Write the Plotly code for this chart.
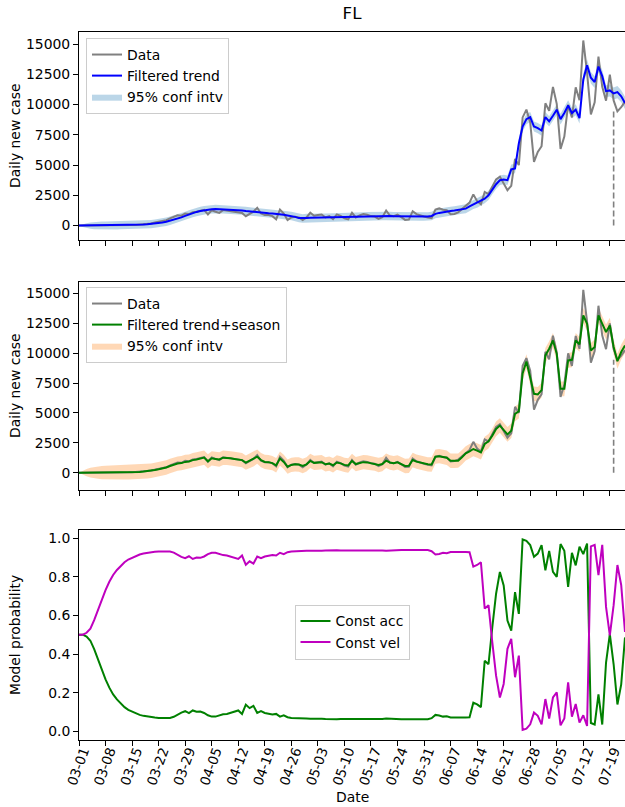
import pandas as pd
import plotly.graph_objects as go
from plotly.subplots import make_subplots

# ---------------- data ----------------
start_date = "2020-03-01"
n_days = 145
dates = pd.date_range(start_date, periods=n_days, freq="D")
date_str = [d.strftime("%Y-%m-%d") for d in dates]

daily_cases = [
    2, 0, 1, 3, 2, 4, 5, 8, 6, 10,
    13, 20, 22, 30, 40, 50, 70, 100, 130, 180,
    250, 300, 380, 450, 600, 730, 850, 820, 1000, 950,
    1100, 1140, 1220, 1300, 920, 1270, 1150, 1050, 1280, 1230,
    1226, 1150, 1100, 1050, 780, 1000, 1150, 1470, 1000, 870,
    870, 780, 520, 1330, 1000, 454, 675, 730, 675, 454,
    675, 1060, 812, 870, 922, 675, 785, 537, 922, 800,
    592, 509, 1060, 675, 850, 950, 900, 785, 750, 555,
    700, 1250, 833, 780, 900, 700, 470, 500, 1190, 950,
    833, 750, 667, 617, 1317, 1419, 1305, 1270, 946, 966,
    1096, 1371, 1698, 1902, 2581, 2016, 1758, 2783, 2610, 3207,
    3822, 4049, 3494, 2926, 3286, 5508, 5004, 8942, 9585, 8530,
    5266, 6093, 6563, 10109, 9488, 11458, 10059, 6336, 7361, 9989,
    8935, 11433, 10360, 15300, 12624, 9194, 10181, 13965, 11466, 10328,
    12478, 10347, 9440, 9785, 10249,
]

filtered_trend = [
    0, 2, 4, 6, 8, 10, 12, 14, 16, 20,
    25, 30, 35, 40, 50, 60, 75, 90, 110, 130,
    160, 200, 250, 320, 400, 490, 580, 680, 800, 920,
    1030, 1130, 1210, 1280, 1330, 1360, 1370, 1360, 1340, 1330,
    1310, 1300, 1285, 1250, 1200, 1160, 1130, 1100, 1070, 1040,
    1020, 1005, 980, 940, 890, 840, 790, 720, 620, 590,
    620, 640, 650, 650, 650, 655, 660, 660, 665, 670,
    675, 680, 700, 720, 740, 760, 780, 790, 790, 780,
    790, 800, 790, 780, 770, 760, 750, 750, 760, 770,
    760, 750, 750, 800, 970, 1050, 1120, 1170, 1200, 1240,
    1300, 1350, 1400, 1580, 1750, 1860, 2030, 2220, 2500, 2970,
    3420, 3750, 3810, 3750, 4640, 4720, 6800, 8190, 8800, 8970,
    8190, 8060, 7860, 8970, 8610, 9080, 9580, 8800, 9300, 9920,
    9300, 9580, 8890, 12080, 13250, 12220, 11860, 13140, 12360, 11110,
    11170, 10920, 11030, 10690, 10140,
]

trend_ci = [
    0, 120, 200, 260, 300, 320, 330, 335, 338, 340,
    340, 340, 340, 340, 340, 340, 340, 340, 340, 340,
    340, 340, 340, 345, 345, 345, 345, 350, 350, 350,
    350, 350, 350, 350, 350, 350, 350, 350, 350, 350,
    350, 350, 350, 350, 350, 350, 350, 350, 350, 350,
    350, 350, 350, 350, 350, 350, 350, 350, 350, 350,
    350, 350, 350, 350, 350, 350, 350, 350, 350, 350,
    350, 350, 350, 350, 350, 350, 350, 350, 350, 350,
    350, 350, 350, 350, 350, 350, 350, 350, 350, 350,
    350, 350, 350, 355, 360, 360, 360, 360, 360, 360,
    365, 365, 370, 370, 375, 375, 380, 380, 385, 385,
    390, 390, 395, 395, 400, 400, 410, 410, 415, 415,
    420, 420, 425, 425, 430, 430, 435, 435, 440, 440,
    445, 450, 455, 460, 470, 475, 480, 485, 490, 495,
    500, 500, 505, 505, 510,
]

trend_season = [
    0, 1, 2, 3, 4, 5, 6, 8, 10, 12,
    15, 20, 25, 30, 40, 50, 65, 90, 120, 160,
    220, 280, 350, 430, 560, 680, 760, 800, 900, 930,
    1050, 1100, 1180, 1260, 950, 1200, 1150, 1100, 1250, 1240,
    1200, 1150, 1120, 1050, 840, 1000, 1120, 1340, 1050, 900,
    880, 800, 620, 1180, 900, 500, 650, 700, 680, 560,
    700, 980, 820, 850, 880, 700, 760, 620, 850, 780,
    650, 600, 980, 720, 800, 880, 860, 800, 760, 640,
    720, 1000, 850, 790, 860, 720, 560, 580, 1060, 920,
    830, 760, 700, 680, 1340, 1380, 1300, 1250, 1000, 1000,
    1006, 1286, 1620, 1790, 1980, 1850, 1700, 2400, 2630, 3100,
    3660, 3940, 3580, 3200, 3500, 4920, 5140, 8300, 9300, 8000,
    6600, 6550, 6900, 9810, 10370, 11060, 9940, 7010, 7010, 9390,
    9440, 11060, 10730, 13160, 12460, 10230, 10510, 13160, 12460, 11760,
    12320, 10510, 9330, 10090, 10640,
]

season_ci = [
    0, 170, 300, 400, 470, 520, 550, 570, 580, 590,
    595, 600, 600, 600, 600, 600, 600, 600, 600, 600,
    600, 600, 600, 600, 600, 600, 600, 600, 600, 600,
    600, 600, 600, 600, 600, 600, 600, 600, 600, 600,
    600, 600, 600, 600, 600, 600, 600, 600, 600, 600,
    600, 600, 600, 600, 600, 600, 600, 600, 600, 600,
    600, 600, 600, 600, 600, 600, 600, 600, 600, 600,
    600, 600, 600, 600, 600, 600, 600, 600, 600, 600,
    600, 600, 600, 600, 600, 600, 600, 600, 600, 600,
    600, 600, 600, 600, 600, 600, 600, 600, 600, 600,
    600, 600, 600, 600, 605, 605, 605, 605, 605, 605,
    610, 610, 610, 610, 610, 610, 615, 615, 615, 615,
    615, 615, 620, 620, 620, 620, 620, 620, 620, 620,
    625, 625, 625, 625, 625, 625, 630, 630, 630, 630,
    630, 630, 630, 630, 630,
]

prob_const_acc = [
    0.5, 0.5, 0.49, 0.469, 0.425, 0.373, 0.316, 0.269, 0.226, 0.191,
    0.165, 0.142, 0.125, 0.111, 0.101, 0.092, 0.085, 0.08, 0.076, 0.073,
    0.071, 0.069, 0.068, 0.068, 0.069, 0.075, 0.087, 0.097, 0.104, 0.094,
    0.108, 0.101, 0.102, 0.095, 0.083, 0.076, 0.076, 0.083, 0.088, 0.09,
    0.095, 0.104, 0.108, 0.09, 0.138, 0.12, 0.132, 0.095, 0.104, 0.095,
    0.09, 0.087, 0.09, 0.076, 0.083, 0.073, 0.069, 0.069, 0.066, 0.067,
    0.066, 0.065, 0.066, 0.064, 0.065, 0.064, 0.063, 0.064, 0.063, 0.064,
    0.064, 0.063, 0.064, 0.063, 0.063, 0.064, 0.063, 0.063, 0.062, 0.063,
    0.064, 0.066, 0.064, 0.063, 0.063, 0.062, 0.062, 0.062, 0.064, 0.064,
    0.063, 0.063, 0.062, 0.068, 0.085, 0.082, 0.076, 0.078, 0.072, 0.072,
    0.071, 0.071, 0.072, 0.073, 0.148, 0.139, 0.125, 0.365, 0.347, 0.538,
    0.712, 0.825, 0.755, 0.573, 0.521, 0.72, 0.608, 0.993, 0.986, 0.964,
    0.903, 0.92, 0.964, 0.833, 0.934, 0.825, 0.799, 0.969, 0.934, 0.747,
    0.924, 0.859, 0.955, 0.917, 0.972, 0.043, 0.035, 0.191, 0.035, 0.356,
    0.503, 0.347, 0.139, 0.243, 0.486,
]

prob_const_vel = [
    0.5, 0.5, 0.51, 0.531, 0.575, 0.627, 0.684, 0.731, 0.774, 0.809,
    0.835, 0.858, 0.875, 0.889, 0.899, 0.908, 0.915, 0.92, 0.924, 0.927,
    0.929, 0.931, 0.932, 0.932, 0.931, 0.925, 0.913, 0.903, 0.896, 0.906,
    0.892, 0.899, 0.898, 0.905, 0.917, 0.924, 0.924, 0.917, 0.912, 0.91,
    0.905, 0.896, 0.892, 0.91, 0.862, 0.88, 0.868, 0.905, 0.896, 0.905,
    0.91, 0.913, 0.91, 0.924, 0.917, 0.927, 0.931, 0.931, 0.934, 0.933,
    0.934, 0.935, 0.934, 0.936, 0.935, 0.936, 0.937, 0.936, 0.937, 0.936,
    0.936, 0.937, 0.936, 0.937, 0.937, 0.936, 0.937, 0.937, 0.938, 0.937,
    0.936, 0.934, 0.936, 0.937, 0.937, 0.938, 0.938, 0.938, 0.936, 0.936,
    0.937, 0.937, 0.938, 0.932, 0.915, 0.918, 0.924, 0.922, 0.928, 0.928,
    0.929, 0.929, 0.928, 0.927, 0.852, 0.861, 0.875, 0.635, 0.653, 0.462,
    0.288, 0.175, 0.245, 0.427, 0.479, 0.28, 0.392, 0.007, 0.014, 0.036,
    0.097, 0.08, 0.036, 0.167, 0.066, 0.175, 0.201, 0.031, 0.066, 0.253,
    0.076, 0.141, 0.045, 0.083, 0.028, 0.957, 0.965, 0.809, 0.965, 0.644,
    0.497, 0.653, 0.861, 0.757, 0.514,
]

tick_labels = ["03-01", "03-08", "03-15", "03-22", "03-29", "04-05", "04-12",
               "04-19", "04-26", "05-03", "05-10", "05-17", "05-24", "05-31",
               "06-07", "06-14", "06-21", "06-28", "07-05", "07-12", "07-19"]
tick_vals = ["2020-" + t for t in tick_labels]
case_ticks = [0, 2500, 5000, 7500, 10000, 12500, 15000]
case_tick_text = ["0", "2500", "5000", "7500", "10000", "12500", "15000"]
prob_ticks = [0.0, 0.2, 0.4, 0.6, 0.8, 1.0]
prob_tick_text = ["0.0", "0.2", "0.4", "0.6", "0.8", "1.0"]
forecast_date = "2020-07-20"

# ---------------- figure ----------------
FONT = "DejaVu Sans"
FS = 13.9
fig = make_subplots(rows=3, cols=1, shared_xaxes=True, vertical_spacing=0.05)

fc_idx = date_str.index(forecast_date)
fc_top = min(daily_cases[fc_idx:])


def band(center, half):
    upper = [c + h for c, h in zip(center, half)]
    lower = [c - h for c, h in zip(center, half)]
    return date_str + date_str[::-1], upper + lower[::-1]


# Top panel
bx, by = band(filtered_trend, trend_ci)
fig.add_trace(go.Scatter(x=bx, y=by, fill="toself", fillcolor="rgba(31,119,180,0.3)",
                         line=dict(width=0), mode="lines", name="95% conf intv",
                         legend="legend", legendrank=3, hoverinfo="skip"), row=1, col=1)
fig.add_trace(go.Scatter(x=[forecast_date, forecast_date], y=[0, fc_top], mode="lines",
                         line=dict(color="gray", dash="6px,3px", width=1.6),
                         showlegend=False, hoverinfo="skip"), row=1, col=1)
fig.add_trace(go.Scatter(x=date_str, y=daily_cases, mode="lines", name="Data",
                         line=dict(color="#808080", width=2), legend="legend",
                         legendrank=1), row=1, col=1)
fig.add_trace(go.Scatter(x=date_str, y=filtered_trend, mode="lines", name="Filtered trend",
                         line=dict(color="#0000ff", width=2), legend="legend",
                         legendrank=2), row=1, col=1)

# Middle panel
sx, sy = band(trend_season, season_ci)
fig.add_trace(go.Scatter(x=sx, y=sy, fill="toself", fillcolor="rgba(255,127,14,0.3)",
                         line=dict(width=0), mode="lines", name="95% conf intv",
                         legend="legend2", legendrank=3, hoverinfo="skip"), row=2, col=1)
fig.add_trace(go.Scatter(x=[forecast_date, forecast_date], y=[0, fc_top], mode="lines",
                         line=dict(color="gray", dash="6px,3px", width=1.6),
                         showlegend=False, hoverinfo="skip"), row=2, col=1)
fig.add_trace(go.Scatter(x=date_str, y=daily_cases, mode="lines", name="Data",
                         line=dict(color="#808080", width=2), legend="legend2",
                         legendrank=1), row=2, col=1)
fig.add_trace(go.Scatter(x=date_str, y=trend_season, mode="lines",
                         name="Filtered trend+season",
                         line=dict(color="#008000", width=2), legend="legend2",
                         legendrank=2), row=2, col=1)

# Bottom panel
fig.add_trace(go.Scatter(x=date_str, y=prob_const_acc, mode="lines", name="Const acc",
                         line=dict(color="#008000", width=2), legend="legend3"), row=3, col=1)
fig.add_trace(go.Scatter(x=date_str, y=prob_const_vel, mode="lines", name="Const vel",
                         line=dict(color="#bf00bf", width=2), legend="legend3"), row=3, col=1)

axis_common = dict(showline=True, linecolor="black", linewidth=1, ticks="outside",
                   ticklen=5, tickwidth=1, tickcolor="black", showgrid=False,
                   zeroline=False, automargin=False,
                   tickfont=dict(family=FONT, size=FS, color="black"))

x_common = dict(axis_common, mirror=True, range=[date_str[0], date_str[-1]],
                tickmode="array", tickvals=tick_vals, ticktext=tick_labels)

legend_style = dict(bgcolor="rgba(255,255,255,0.8)", bordercolor="#cccccc", borderwidth=1,
                    font=dict(family=FONT, size=FS, color="black"), traceorder="normal")

PLOT_L, PLOT_R, PLOT_T, PLOT_B = 79, 625, 32, 740
W = PLOT_R - PLOT_L
H = PLOT_B - PLOT_T


def px_x(px):
    return (px - PLOT_L) / W


def px_y(py):
    return (PLOT_B - py) / H


title_font = dict(family=FONT, size=FS, color="black")
annotations = [
    dict(text="Date", x=px_x(352), y=px_y(797), xref="paper", yref="paper",
         showarrow=False, font=title_font, xanchor="center", yanchor="middle"),
    dict(text="Daily new case", x=px_x(15), y=px_y(136), xref="paper", yref="paper",
         showarrow=False, font=title_font, textangle=-90, xanchor="center", yanchor="middle"),
    dict(text="Daily new case", x=px_x(15), y=px_y(386), xref="paper", yref="paper",
         showarrow=False, font=title_font, textangle=-90, xanchor="center", yanchor="middle"),
    dict(text="Model probability", x=px_x(15), y=px_y(635), xref="paper", yref="paper",
         showarrow=False, font=title_font, textangle=-90, xanchor="center", yanchor="middle"),
]

fig.update_layout(
    width=625, height=807,
    margin=dict(l=PLOT_L, r=625 - PLOT_R, t=PLOT_T, b=807 - PLOT_B),
    paper_bgcolor="white", plot_bgcolor="white",
    font=dict(family=FONT, size=FS, color="black"),
    title=dict(text="FL", x=(PLOT_L + PLOT_R) / 2 / 625, xanchor="center", y=1 - 13 / 807,
               yanchor="middle", font=dict(family=FONT, size=16.7, color="black")),
    xaxis=dict(x_common, showticklabels=False),
    xaxis2=dict(x_common, showticklabels=False),
    xaxis3=dict(x_common, showticklabels=True, tickangle=-70, ticklabelshift=4,
                ticklabelstandoff=-8,
                tickfont=dict(family=FONT, size=13.5, color="black")),
    yaxis=dict(axis_common, domain=[px_y(240), 1.0], range=[-1190, 16000],
               tickmode="array", tickvals=case_ticks, ticktext=case_tick_text),
    yaxis2=dict(axis_common, domain=[px_y(490), px_y(282)], range=[-1450, 15950],
                tickmode="array", tickvals=case_ticks, ticktext=case_tick_text),
    yaxis3=dict(axis_common, domain=[0.0, px_y(530)], range=[-0.045, 1.042],
                tickmode="array", tickvals=prob_ticks, ticktext=prob_tick_text),
    legend=dict(legend_style, x=px_x(86), y=px_y(38), xanchor="left", yanchor="top"),
    legend2=dict(legend_style, x=px_x(86), y=px_y(287), xanchor="left", yanchor="top"),
    legend3=dict(legend_style, x=0.5, y=px_y(632), xanchor="center", yanchor="middle"),
    annotations=annotations,
)

fig.write_html("out.html")
